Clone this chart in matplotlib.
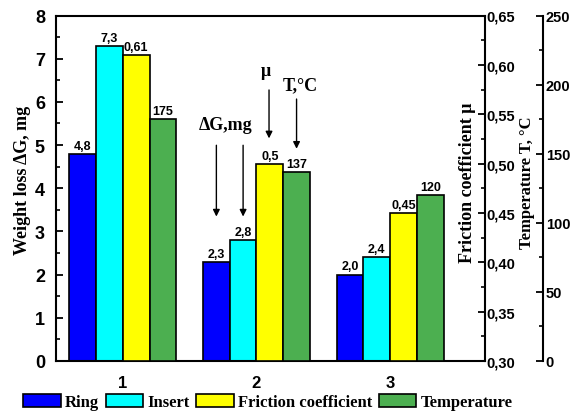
import matplotlib
matplotlib.use("Agg")
import matplotlib.pyplot as plt
from matplotlib.ticker import MultipleLocator, FuncFormatter
import numpy as np

groups = ["1", "2", "3"]
ring = [4.8, 2.3, 2.0]
insert = [7.3, 2.8, 2.4]
friction = [0.61, 0.5, 0.45]
temperature = [175, 137, 120]
series_names = ["Ring", "Insert", "Friction coefficient", "Temperature"]
colors = ["#0000FF", "#00FFFF", "#FFFF00", "#4CAF50"]

SANS = "Liberation Sans"
SERIF = "Liberation Serif"

fig = plt.figure(figsize=(5.81, 4.14), dpi=100)
L, R, B, T = 56, 485, 362, 16.5
W, H = 581, 414
ax = fig.add_axes([L / W, 1 - B / H, (R - L) / W, (B - T) / H])
ax2 = ax.twinx()
ax3 = ax.twinx()

x = np.arange(1, len(groups) + 1)
w = 0.2
ekw = dict(edgecolor="black", linewidth=1.2)

b1 = ax.bar(x - 1.5 * w, ring, w, color=colors[0], label=series_names[0], **ekw)
b2 = ax.bar(x - 0.5 * w, insert, w, color=colors[1], label=series_names[1], **ekw)
fbase = 0.30
b3 = ax2.bar(x + 0.5 * w, np.array(friction) - fbase, w, bottom=fbase,
             color=colors[2], label=series_names[2], **ekw)
b4 = ax3.bar(x + 1.5 * w, temperature, w, color=colors[3], label=series_names[3], **ekw)

ax.set_xlim(0.5, 3.71)
ax.set_ylim(0, 8)
ax2.set_ylim(0.30, 0.65)
ax3.set_ylim(0, 250)

vfont = dict(fontfamily=SANS, fontweight="bold", fontsize=9, ha="center", va="bottom")
def lab(v):
    return str(v).replace(".", ",")
for xi, v in zip(x - 1.5 * w, ring):
    ax.text(xi, v + 0.05, lab(v), **vfont)
for xi, v in zip(x - 0.5 * w, insert):
    ax.text(xi, v + 0.05, lab(v), **vfont)
for xi, v in zip(x + 0.5 * w, friction):
    ax2.text(xi, v + 0.002, lab(v), **vfont)
for xi, v in zip(x + 1.5 * w, temperature):
    ax3.text(xi, v + 1.5, lab(v), **vfont)

# spines
for s in ["top", "bottom", "left"]:
    ax.spines[s].set_linewidth(1.5)
ax.spines["right"].set_visible(False)
for s in ["top", "bottom", "left"]:
    ax2.spines[s].set_visible(False)
    ax3.spines[s].set_visible(False)
ax2.spines["right"].set_linewidth(1.5)
ax3.spines["right"].set_linewidth(1.5)
ax3.spines["right"].set_position(("axes", (543 - L) / (R - L)))

comma = lambda fmt: FuncFormatter(lambda v, p: (fmt % v).replace(".", ","))

ax.set_xticks(x)
ax.set_xticklabels(groups)
ax.tick_params(axis="x", length=0, pad=10)
for t in ax.get_xticklabels():
    t.set_fontfamily(SANS); t.set_fontweight("bold"); t.set_fontsize(12)

ax.yaxis.set_major_locator(MultipleLocator(1))
ax.yaxis.set_minor_locator(MultipleLocator(0.5))
ax.tick_params(axis="y", which="major", direction="in", length=5, width=1.3, pad=8)
ax.tick_params(axis="y", which="minor", direction="in", length=3, width=1.2)
for t in ax.get_yticklabels():
    t.set_fontfamily(SANS); t.set_fontweight("bold"); t.set_fontsize(13)

ax2.yaxis.set_major_locator(MultipleLocator(0.05))
ax2.yaxis.set_minor_locator(MultipleLocator(0.025))
ax2.yaxis.set_major_formatter(comma("%.2f"))
ax2.tick_params(axis="y", which="major", direction="in", length=5, width=1.3, pad=1)
ax2.tick_params(axis="y", which="minor", direction="in", length=3, width=1.2)
for t in ax2.get_yticklabels():
    t.set_fontfamily(SANS); t.set_fontweight("bold"); t.set_fontsize(10.5)

ax3.yaxis.set_major_locator(MultipleLocator(50))
ax3.yaxis.set_minor_locator(MultipleLocator(25))
ax3.tick_params(axis="y", which="major", direction="in", length=5, width=1.3, pad=2)
ax3.tick_params(axis="y", which="minor", direction="in", length=3, width=1.2)
for t in ax3.get_yticklabels():
    t.set_fontfamily(SANS); t.set_fontweight("bold"); t.set_fontsize(10.5)

# axis labels
fig.text(23 / W, 1 - 180 / H, "Weight loss ΔG, mg", rotation=90, ha="center", va="center",
         fontfamily=SERIF, fontweight="bold", fontsize=13)
fig.text(467 / W, 1 - 183 / H, "Friction coefficient μ", rotation=90, ha="center", va="center",
         fontfamily=SERIF, fontweight="bold", fontsize=13)
fig.text(527 / W, 1 - 183 / H, "Temperature T, °C", rotation=90, ha="center", va="center",
         fontfamily=SERIF, fontweight="bold", fontsize=12)

# annotations
afont = dict(fontfamily=SERIF, fontweight="bold", fontsize=13, ha="center", va="center")
arrow = dict(arrowstyle="-|>", color="black", lw=1.0, mutation_scale=10)
ax.text(1.77, 5.48, "ΔG,mg", **afont)
ax.annotate("", xy=(1.70, 3.28), xytext=(1.70, 5.06), arrowprops=arrow)
ax.annotate("", xy=(1.90, 3.28), xytext=(1.90, 5.06), arrowprops=arrow)
ax.text(2.07, 6.72, "μ", **afont)
ax.annotate("", xy=(2.094, 5.09), xytext=(2.094, 6.34), arrowprops=arrow)
ax.text(2.33, 6.40, "T,°C", **afont)
ax.annotate("", xy=(2.30, 4.85), xytext=(2.30, 6.13), arrowprops=arrow)

handles = [b1, b2, b3, b4]
leg = fig.legend(handles, series_names, loc="center", bbox_to_anchor=(268 / W, 1 - 403 / H),
                 ncol=4, frameon=False, handlelength=2.25, handleheight=0.8,
                 handletextpad=0.25, columnspacing=0.4,
                 prop=dict(family=SERIF, weight="bold", size=12))

fig.savefig("out.png", dpi=100)
